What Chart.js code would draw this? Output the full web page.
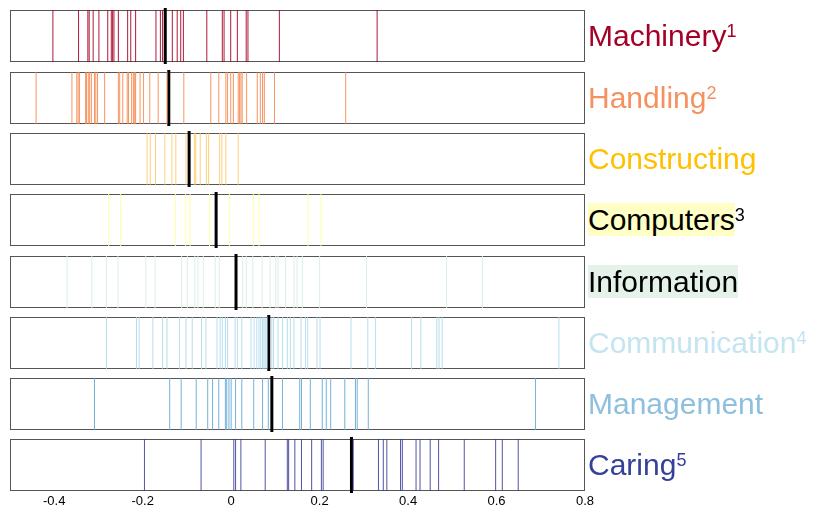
<!DOCTYPE html>
<html>
<head>
  <title>Rug plot</title>
  <script src="https://cdn.jsdelivr.net/npm/chart.js"></script>
  <style>
    body { margin: 0; background: #fff; }
    #wrap {
      position: relative;
      width: 813px;
      height: 511px;
      font-family: "Liberation Sans", Arial, sans-serif;
    }
    .row { position: absolute; left: 0; }
    .label {
      position: absolute;
      left: 588px;
      font-size: 30px;
      line-height: 34px;
      white-space: nowrap;
    }
    .label sup {
      font-size: 18px;
      vertical-align: baseline;
      position: relative;
      top: -9px;
    }
  </style>
</head>
<body>
  <div id="wrap"></div>

  <script>
    var categories = ["Machinery", "Handling", "Constructing", "Computers", "Information", "Communication", "Management", "Caring"];
    var notes = ["1", "2", "", "3", "", "4", "", "5"];
    var textColors = ["#a50026", "#f5915f", "#ffc000", "#000000", "#000000", "#c3e4f0", "#8ec0de", "#35409a"];
    var labelBackgrounds = ["", "", "", "#ffffc5", "#e4f2ea", "", "", ""];
    var lineColors = ["rgba(165,0,38,0.9)", "rgba(246,130,70,0.85)", "rgba(254,192,80,0.75)", "rgba(255,255,160,0.95)",
                      "rgba(218,238,228,0.95)", "rgba(172,216,234,0.85)", "rgba(100,168,212,0.9)", "rgba(49,54,149,0.85)"];

    var machinery = [-0.403, -0.345, -0.324, -0.321, -0.312, -0.299, -0.279, -0.271, -0.268, -0.265, -0.255, -0.234, -0.227, -0.216,
                     -0.170, -0.160, -0.155, -0.133, -0.122, -0.114, -0.108, -0.055, -0.020, -0.016, -0.001, 0.014, 0.034, 0.038, 0.109, 0.330];
    var handling = [-0.441, -0.360, -0.349, -0.346, -0.343, -0.329, -0.327, -0.323, -0.320, -0.316, -0.309, -0.306, -0.302, -0.286,
                    -0.255, -0.252, -0.245, -0.235, -0.232, -0.225, -0.221, -0.218, -0.216, -0.206, -0.198, -0.184, -0.165, -0.145,
                    -0.107, -0.046, -0.028, -0.012, -0.008, -0.001, 0.005, 0.016, 0.019, 0.022, 0.025, 0.035, 0.059, 0.066, 0.071, 0.075, 0.098, 0.259];
    var constructing = [-0.190, -0.183, -0.171, -0.150, -0.134, -0.125, -0.102, -0.083, -0.080, -0.070, -0.056, -0.051, -0.026, -0.021, -0.012, 0.016];
    var computers = [-0.277, -0.250, -0.126, -0.103, -0.093, -0.049, -0.004, 0.050, 0.063, 0.174, 0.203];
    var information = [-0.371, -0.315, -0.282, -0.256, -0.193, -0.172, -0.112, -0.099, -0.082, -0.075, -0.063, -0.036, -0.027,
                       0.026, 0.034, 0.049, 0.070, 0.088, 0.101, 0.106, 0.123, 0.142, 0.149, 0.161, 0.200, 0.306, 0.487, 0.568];
    var communication = [-0.282, -0.214, -0.208, -0.177, -0.155, -0.145, -0.117, -0.102, -0.088, -0.067, -0.057, -0.032, -0.025, -0.020,
                         -0.013, -0.008, 0.009, 0.014, 0.024, 0.045, 0.052, 0.058, 0.063, 0.067, 0.071, 0.074, 0.077, 0.081, 0.092, 0.096,
                         0.106, 0.116, 0.127, 0.134, 0.142, 0.158, 0.168, 0.173, 0.194, 0.201, 0.271, 0.309, 0.326, 0.408, 0.429, 0.465, 0.470, 0.477, 0.741];
    var management = [-0.309, -0.139, -0.113, -0.079, -0.053, -0.042, -0.028, -0.013, -0.010, -0.005, 0.000, 0.010, 0.024, 0.051, 0.071, 0.084,
                      0.116, 0.155, 0.159, 0.179, 0.206, 0.215, 0.225, 0.257, 0.281, 0.285, 0.310, 0.688];
    var caring = [-0.196, -0.068, 0.006, 0.010, 0.022, 0.077, 0.127, 0.130, 0.144, 0.159, 0.182, 0.204, 0.208, 0.276,
                  0.333, 0.344, 0.352, 0.383, 0.387, 0.418, 0.427, 0.450, 0.469, 0.527, 0.598, 0.613, 0.649];
    var rowValues = [machinery, handling, constructing, computers, information, communication, management, caring];
    var centers = [-0.149, -0.141, -0.095, -0.034, 0.011, 0.085, 0.092, 0.272];

    var xTicks = [-0.4, -0.2, 0, 0.2, 0.4, 0.6, 0.8];
    var xTickLabels = ["-0.4", "-0.2", "0", "0.2", "0.4", "0.6", "0.8"];

    // layout
    var rowTops = [10, 72, 133, 194, 256, 317, 378, 439];
    var rowHeight = 52;
    var canvasWidth = 600;
    var fontFamily = "'Liberation Sans', Arial, sans-serif";

    var boxPlugin = {
      id: "box",
      beforeDatasetsDraw: function(chart) {
        var a = chart.chartArea;
        var ctx = chart.ctx;
        ctx.save();
        ctx.strokeStyle = "#555";
        ctx.lineWidth = 1;
        ctx.strokeRect(Math.round(a.left) + 0.5, Math.round(a.top) + 0.5, Math.round(a.right - a.left) - 1, Math.round(a.bottom - a.top) - 1);
        ctx.restore();
      }
    };

    var wrap = document.getElementById("wrap");

    function drawRow(i) {
      var last = i == categories.length - 1;
      var div = document.createElement("div");
      div.className = "row";
      div.style.top = (rowTops[i] - 3) + "px";
      var h = last ? 3 + rowHeight + 20 : rowHeight + 6;
      var canvas = document.createElement("canvas");
      canvas.width = canvasWidth;
      canvas.height = h;
      canvas.style.width = canvasWidth + "px";
      canvas.style.height = h + "px";
      div.appendChild(canvas);
      wrap.appendChild(div);

      var points = rowValues[i].map(function(v) { return { x: v, y: 0.5 }; });

      new Chart(canvas.getContext("2d"), {
        type: "scatter",
        data: {
          datasets: [{
            data: points,
            pointStyle: "line",
            pointRotation: 90,
            pointRadius: rowHeight / 2,
            pointBorderWidth: 1,
            pointBorderColor: lineColors[i],
            pointBackgroundColor: lineColors[i],
            clip: false
          }, {
            data: [{ x: centers[i], y: 0.5 }],
            pointStyle: "line",
            pointRotation: 90,
            pointRadius: rowHeight / 2 + 2,
            pointBorderWidth: 3,
            pointBorderColor: "#000",
            pointBackgroundColor: "#000",
            clip: false
          }]
        },
        options: {
          responsive: false,
          animation: false,
          events: [],
          devicePixelRatio: 1,
          layout: { autoPadding: false, padding: { left: 10, right: 15, top: 3, bottom: last ? 0 : 3 } },
          plugins: { legend: { display: false }, tooltip: { enabled: false } },
          scales: {
            x: {
              type: "linear",
              min: -0.5,
              max: 0.8,
              display: last,
              grid: { display: false, drawTicks: false },
              border: { display: false },
              afterBuildTicks: function(scale) {
                scale.ticks = xTicks.map(function(v) { return { value: v }; });
              },
              afterFit: function(scale) { scale.height = last ? 20 : 0; },
              ticks: {
                padding: 3,
                color: "#000",
                font: { size: 13, family: fontFamily },
                maxRotation: 0,
                callback: function(value) {
                  var k = xTicks.indexOf(value);
                  return k >= 0 ? xTickLabels[k] : "";
                }
              }
            },
            y: { type: "linear", min: 0, max: 1, display: false }
          }
        },
        plugins: [boxPlugin]
      });

      var labelDiv = document.createElement("div");
      labelDiv.className = "label";
      labelDiv.style.top = (rowTops[i] + rowHeight / 2 - 17) + "px";
      labelDiv.style.color = textColors[i];
      var nameSpan = document.createElement("span");
      nameSpan.textContent = categories[i];
      if (labelBackgrounds[i]) nameSpan.style.background = labelBackgrounds[i];
      labelDiv.appendChild(nameSpan);
      if (notes[i]) {
        var sup = document.createElement("sup");
        sup.textContent = notes[i];
        labelDiv.appendChild(sup);
      }
      wrap.appendChild(labelDiv);
    }

    for (var i = 0; i < categories.length; i++) drawRow(i);
  </script>
</body>
</html>
